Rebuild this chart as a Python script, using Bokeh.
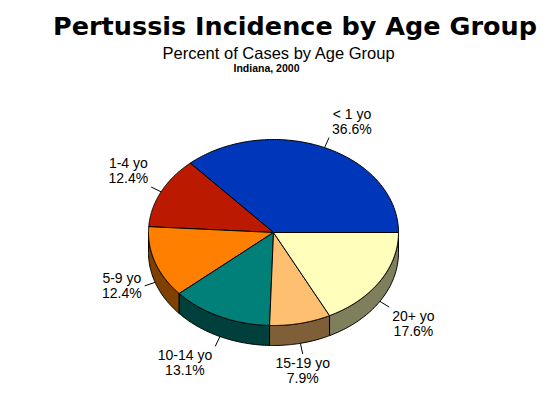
import numpy as np
from bokeh.plotting import figure
from bokeh.models import Range1d
from bokeh.core.properties import value
from bokeh.embed import file_html
from bokeh.resources import INLINE

# ---- data ----
age_groups = ["< 1 yo", "1-4 yo", "5-9 yo", "10-14 yo", "15-19 yo", "20+ yo"]
percents = [36.6, 12.4, 12.4, 13.1, 7.9, 17.6]
top_colors = ["#0036B9", "#BC1A00", "#FF8000", "#008078", "#FFBF70", "#FFFFBB"]

title = "Pertussis Incidence by Age Group"
subtitle = "Percent of Cases by Age Group"
subsubtitle = "Indiana, 2000"

# ---- layout ----
W, H = 547, 392
CX, CY, RX, RY, DEPTH = 273, 232, 125, 93, 20
LEAD = 11
FONT_PX = 14

p = figure(width=W, height=H, output_backend="svg", toolbar_location=None,
           x_range=Range1d(0, W), y_range=Range1d(H, 0),
           min_border=0, outline_line_color=None)
p.axis.visible = False
p.grid.visible = False
p.background_fill_color = "white"
p.border_fill_color = "white"


def darker(hexc):
    r, g, b = int(hexc[1:3], 16), int(hexc[3:5], 16), int(hexc[5:7], 16)
    return "#%02X%02X%02X" % (r // 2, g // 2, b // 2)


def ept(t, extra=0.0):
    return CX + (RX + extra) * np.cos(t), CY - (RY + extra) * np.sin(t)


fr = np.array(percents) / sum(percents)
ends = np.cumsum(fr) * 360.0
starts = ends - fr * 360.0

# side faces (front half only)
sx, sy, sc = [], [], []
for a0, a1, c in zip(starts, ends, top_colors):
    s, e = max(a0, 180.0), min(a1, 360.0)
    if e <= s:
        continue
    t = np.radians(np.linspace(s, e, 60))
    x, y = ept(t)
    xs = list(x) + list(x[::-1])
    ys = list(y) + list((y + DEPTH)[::-1])
    sx.append(xs); sy.append(ys); sc.append(darker(c))
p.patches(sx, sy, fill_color=sc, line_color="black", line_width=1)

# top wedges
tx, ty = [], []
for a0, a1 in zip(starts, ends):
    t = np.radians(np.linspace(a0, a1, 120))
    x, y = ept(t)
    tx.append([CX] + list(x)); ty.append([CY] + list(y))
p.patches(tx, ty, fill_color=top_colors, line_color="black", line_width=1)

# labels
CW = {"0": 556, "1": 556, "2": 556, "3": 556, "4": 556, "5": 556, "6": 556,
      "7": 556, "8": 556, "9": 556, " ": 278, "-": 333, "+": 584, "<": 584,
      "y": 500, "o": 556, "%": 889, ".": 278}


def tw(s):
    return sum(CW.get(ch, 556) for ch in s) * FONT_PX / 1000.0


lx0, ly0, lx1, ly1 = [], [], [], []
n1x, n1y, n1t, n2y, n2t = [], [], [], [], []
for name, pc, a0, a1 in zip(age_groups, percents, starts, ends):
    m = np.radians((a0 + a1) / 2)
    c, s = np.cos(m), np.sin(m)
    d = DEPTH if s < 0 else 0
    ix, iy = ept(m)
    ox, oy = ept(m, LEAD)
    iy += d; oy += d
    lx0.append(ix); ly0.append(iy); lx1.append(ox); ly1.append(oy)
    pct_txt = "%.1f%%" % pc
    w = max(tw(name), tw(pct_txt))
    if c > 0.3:
        bx = ox + w / 2 + 3
    elif c < -0.3:
        bx = ox - w / 2 - 3
    else:
        bx = ox
    if s > 0.35:
        by = oy - 16.5
    elif s < -0.35:
        by = oy + 16.5
    else:
        by = oy
    n1x.append(bx); n1y.append(by - 7.5); n1t.append(name)
    n2y.append(by + 7.5); n2t.append(pct_txt)

p.segment(lx0, ly0, lx1, ly1, line_color="black", line_width=1)
p.text(n1x, n1y, text=n1t, text_font=value("Liberation Sans"),
       text_font_size="%dpx" % FONT_PX, text_align="center",
       text_baseline="middle", text_color="black")
p.text(n1x, n2y, text=n2t, text_font=value("Liberation Sans"),
       text_font_size="%dpx" % FONT_PX, text_align="center",
       text_baseline="middle", text_color="black")

# titles
p.text([294.5], [25], text=[title], text_font=value("DejaVu Sans"),
       text_font_style="bold", text_font_size="25.5px", text_align="center",
       text_baseline="alphabetic", text_color="black")
p.text([278.5], [52], text=[subtitle], text_font=value("Liberation Sans"),
       text_font_size="16.5px", text_align="center",
       text_baseline="alphabetic", text_color="black")
p.text([266], [67], text=[subsubtitle], text_font=value("Liberation Sans"),
       text_font_style="bold", text_font_size="10.5px", text_align="center",
       text_baseline="alphabetic", text_color="black")

open("out.html", "w").write(file_html(p, INLINE))
